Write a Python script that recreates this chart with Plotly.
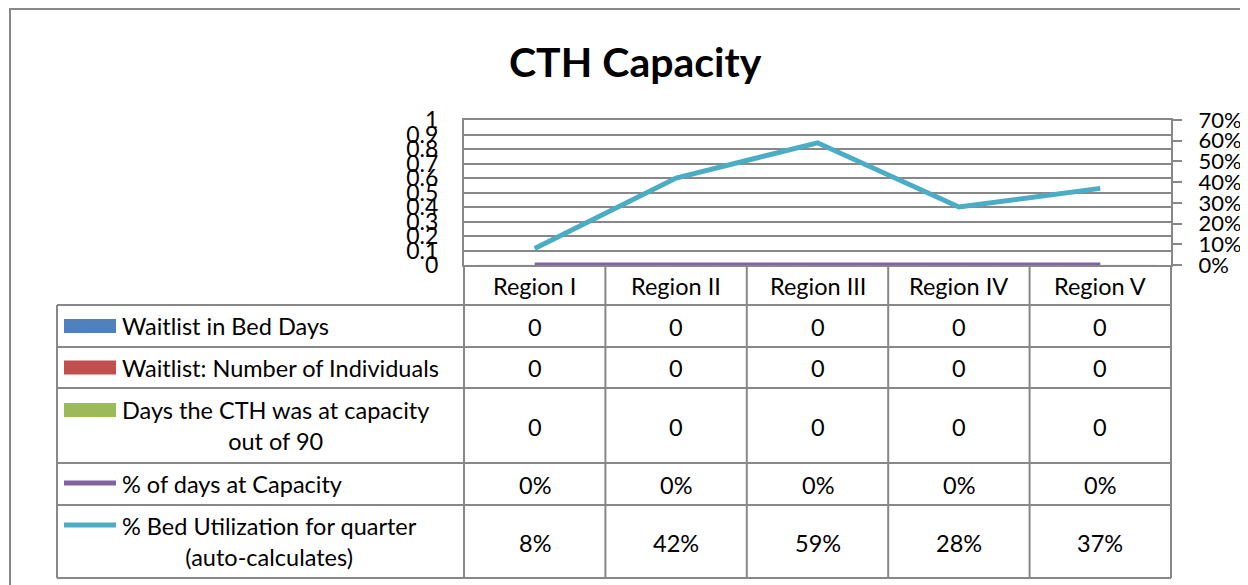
import plotly.graph_objects as go

categories = ["Region I", "Region II", "Region III", "Region IV", "Region V"]
waitlist_bed_days = [0, 0, 0, 0, 0]
waitlist_individuals = [0, 0, 0, 0, 0]
days_at_capacity = [0, 0, 0, 0, 0]
pct_days_at_capacity = [0.0, 0.0, 0.0, 0.0, 0.0]
pct_bed_utilization = [0.08, 0.42, 0.59, 0.28, 0.37]

series_names = [
    "Waitlist in Bed Days",
    "Waitlist: Number of Individuals",
    "Days the CTH was at capacity<br>out of 90",
    "% of days at Capacity",
    "% Bed Utilization for quarter<br>(auto-calculates)",
]
colors = ["#4F81BD", "#C0504D", "#9BBB59", "#8064A2", "#4BACC6"]

# page offset (browser body margin) and figure size
OX, OY = 8, 8
W, H = 1240, 577
FONT = "Lato"
GRAY = "#888888"


def X(px):
    return (px - OX) / W


def Y(py):
    return 1 - (py - OY) / H


plot_l, plot_r, plot_t, plot_b = 464, 1171, 120, 265

fig = go.Figure()

bars = [waitlist_bed_days, waitlist_individuals, days_at_capacity]
for i, vals in enumerate(bars):
    fig.add_trace(go.Bar(x=categories, y=vals, marker_color=colors[i],
                         name=series_names[i], showlegend=False))

fig.add_trace(go.Scatter(x=categories, y=pct_days_at_capacity, mode="lines",
                         line=dict(color=colors[3], width=5), yaxis="y2",
                         showlegend=False))
fig.add_trace(go.Scatter(x=categories, y=pct_bed_utilization, mode="lines",
                         line=dict(color=colors[4], width=5), yaxis="y2",
                         showlegend=False))

row_lines = [305, 347, 388, 463, 505, 578]
col_lines = [plot_l + i * (plot_r - plot_l) / 5 for i in range(6)]
table_left = 57

shapes = []
lw = 2
shapes.append(dict(type="rect", xref="paper", yref="paper", x0=X(10), x1=X(1270),
                   y0=Y(620), y1=Y(9), line=dict(color=GRAY, width=2)))
for r in row_lines:
    shapes.append(dict(type="line", xref="paper", yref="paper", x0=X(table_left), x1=X(plot_r),
                       y0=Y(r), y1=Y(r), line=dict(color=GRAY, width=lw)))
for c in col_lines:
    shapes.append(dict(type="line", xref="paper", yref="paper", x0=X(c), x1=X(c),
                       y0=Y(plot_b), y1=Y(row_lines[-1]), line=dict(color=GRAY, width=lw)))
shapes.append(dict(type="line", xref="paper", yref="paper", x0=X(table_left), x1=X(table_left),
                   y0=Y(row_lines[0]), y1=Y(row_lines[-1]), line=dict(color=GRAY, width=lw)))

TS = 23.5
annotations = []
annotations.append(dict(text="<b>CTH Capacity</b>", x=X(635), y=Y(61), xref="paper", yref="paper",
                        showarrow=False, font=dict(family=FONT, size=41, color="black"),
                        xanchor="center", yanchor="middle"))

header_center = (plot_b + row_lines[0]) / 2
for i, cat in enumerate(categories):
    cx = (col_lines[i] + col_lines[i + 1]) / 2
    annotations.append(dict(text=cat, x=X(cx), y=Y(header_center + 1), xref="paper", yref="paper",
                            showarrow=False, font=dict(family=FONT, size=TS, color="black"),
                            xanchor="center", yanchor="middle"))

table_rows = [waitlist_bed_days, waitlist_individuals, days_at_capacity,
              pct_days_at_capacity, pct_bed_utilization]
is_pct = [False, False, False, True, True]
for r, vals in enumerate(table_rows):
    top, bot = row_lines[r], row_lines[r + 1]
    cy = (top + bot) / 2
    for i, v in enumerate(vals):
        cx = (col_lines[i] + col_lines[i + 1]) / 2
        txt = f"{round(v * 100)}%" if is_pct[r] else f"{v}"
        annotations.append(dict(text=txt, x=X(cx), y=Y(cy + 1), xref="paper", yref="paper",
                                showarrow=False, font=dict(family=FONT, size=TS, color="black"),
                                xanchor="center", yanchor="middle"))
    annotations.append(dict(text=series_names[r], x=X(120), y=Y(cy), xref="paper", yref="paper",
                            showarrow=False, font=dict(family=FONT, size=TS, color="black"),
                            xanchor="left", yanchor="middle", align="center"))
    if r < 3:
        ky = cy if r < 2 else 410
        shapes.append(dict(type="rect", xref="paper", yref="paper", x0=X(64), x1=X(116),
                           y0=Y(ky + 7), y1=Y(ky - 7), fillcolor=colors[r], line=dict(width=0)))
    else:
        ky = 483 if r == 3 else 525
        shapes.append(dict(type="line", xref="paper", yref="paper", x0=X(64), x1=X(116),
                           y0=Y(ky), y1=Y(ky), line=dict(color=colors[r], width=5)))

fig.update_layout(
    width=W, height=H,
    margin=dict(l=0, r=0, t=0, b=0, pad=0, autoexpand=False),
    paper_bgcolor="white", plot_bgcolor="white",
    showlegend=False,
    barmode="group",
    xaxis=dict(domain=[X(plot_l), X(plot_r)], range=[-0.5, 4.5], showticklabels=False,
               showgrid=False, showline=True, mirror=True, linecolor=GRAY, linewidth=2,
               zeroline=False, ticks="", automargin=False),
    yaxis=dict(domain=[Y(plot_b), Y(plot_t)], range=[0, 1], dtick=0.1,
               showgrid=True, gridcolor=GRAY, gridwidth=2, zeroline=False,
               showline=True, linecolor=GRAY, linewidth=2, ticks="", automargin=False,
               tickfont=dict(family=FONT, size=23, color="black"), ticklabelstandoff=19),
    yaxis2=dict(overlaying="y", side="right", range=[0, 0.7], dtick=0.1, tickformat=".0%",
                showgrid=False, zeroline=False, showline=True, linecolor=GRAY, linewidth=2,
                ticks="outside", ticklen=9, tickwidth=2, tickcolor=GRAY, automargin=False,
                tickfont=dict(family=FONT, size=22, color="black"), ticklabelstandoff=12),
    shapes=shapes,
    annotations=annotations,
)

fig.write_html("out.html")
